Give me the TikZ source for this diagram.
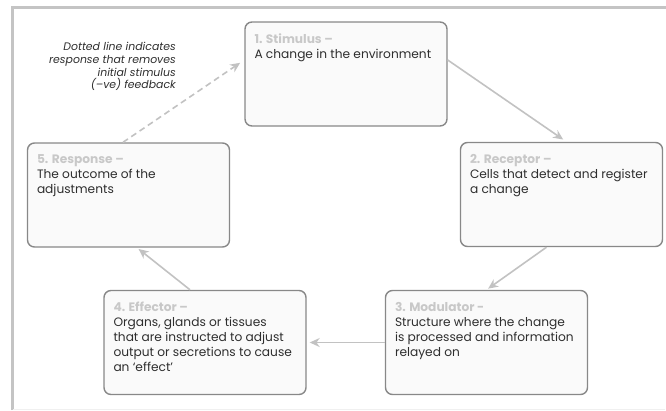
\documentclass[tikz,border=0pt]{standalone}
\usepackage{fontspec}
\setmainfont{Poppins}
\usetikzlibrary{arrows.meta, positioning}

\definecolor{framegray}{HTML}{C4C4C4}
\definecolor{boxedge}{HTML}{888888}
\definecolor{boxfill}{HTML}{FAFAFA}
\definecolor{titlegray}{HTML}{C8C8C8}
\definecolor{bodytext}{HTML}{2E2E2E}
\definecolor{arrowgray}{HTML}{C2C2C2}

\begin{document}
\begin{tikzpicture}[
    x=1pt, y=-1pt,
    stage/.style={rectangle, rounded corners=7pt, draw=boxedge, line width=1.4pt, fill=boxfill, minimum width=202pt, minimum height=104pt},
    stagetext/.style={anchor=north west, align=left, inner sep=0pt, font=\fontsize{12.2}{15}\selectfont, text=bodytext},
    arrow/.style={draw=arrowgray, line width=1.6pt, -{Stealth[length=10pt, width=9pt]}},
    feedback/.style={arrow, dash pattern=on 6pt off 4pt}
]
\useasboundingbox (0,0) rectangle (666,410);

% frame
\draw[framegray, line width=3pt] (12,410) -- (12,7.5) -- (666,7.5);
\draw[gray!12, line width=0.8pt] (13,409) -- (665,409);

% the five stages
\node (stim) [stage] at (346,74) {};
\node (rec) [stage] at (561.5,194.5) {};
\node (mod) [stage] at (486.5,342.5) {};
\node (eff) [stage] at (205,342.5) {};
\node (resp) [stage] at (128.5,195) {};

\node (stimtxt) [stagetext] at ([shift={(10pt,-12pt)}]stim.north west) {\textbf{\color{titlegray}1. Stimulus –}\\A change in the environment};
\node (rectxt) [stagetext] at ([shift={(10pt,-12pt)}]rec.north west) {\textbf{\color{titlegray}2. Receptor –}\\Cells that detect and register\\a change};
\node (modtxt) [stagetext] at ([shift={(10pt,-12pt)}]mod.north west) {\textbf{\color{titlegray}3. Modulator -}\\Structure where the change\\is processed and information\\relayed on};
\node (efftxt) [stagetext] at ([shift={(10pt,-12pt)}]eff.north west) {\textbf{\color{titlegray}4. Effector –}\\Organs, glands or tissues\\that are instructed to adjust\\output or secretions to cause\\an ‘effect’};
\node (resptxt) [stagetext] at ([shift={(10pt,-12pt)}]resp.north west) {\textbf{\color{titlegray}5. Response –}\\The outcome of the\\adjustments};

\node (note) [anchor=north east, align=right, inner sep=0pt, font=\fontsize{10.9}{12.8}\selectfont\itshape, text=bodytext] at (176,42) {Dotted line indicates\\response that removes\\initial stimulus\\(–ve) feedback};

\draw [arrow, shorten >=4pt] ([yshift=14pt]stim.east) -- ([xshift=5pt]rec.north);
\draw [arrow, shorten >=2pt] ([xshift=-15pt]rec.south) -- (mod.north);
\draw [arrow, shorten >=3pt] (mod.west) -- (eff.east);
\draw [arrow, shorten >=2pt] ([xshift=-15pt]eff.north) -- ([xshift=8.5pt]resp.south);
\draw [feedback, shorten >=5pt] ([xshift=-5.5pt]resp.north) -- ([yshift=14pt]stim.west);

\end{tikzpicture}
\end{document}
